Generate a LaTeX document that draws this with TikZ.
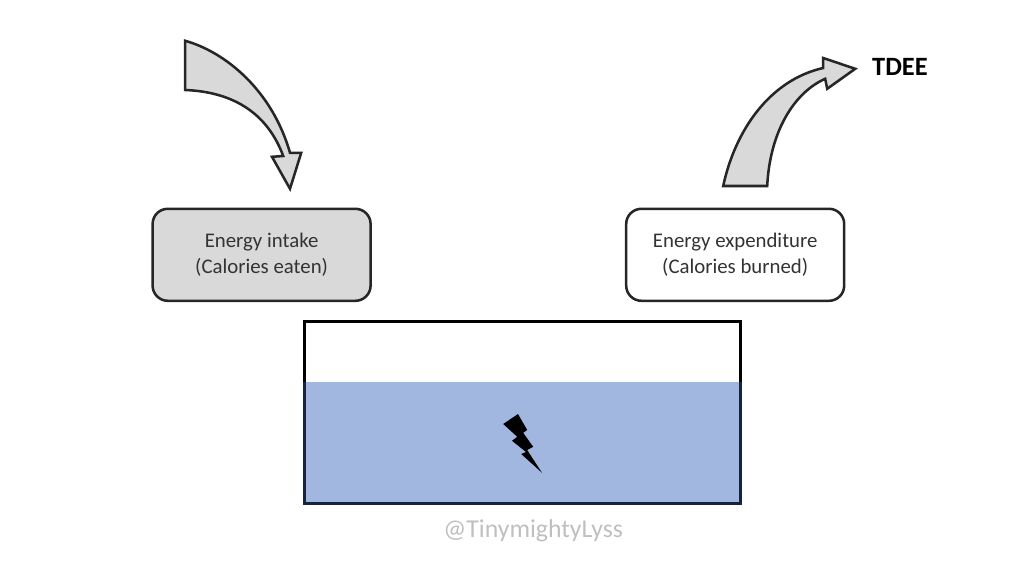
\documentclass[tikz,border=0pt]{standalone}
\usepackage{fontspec}
\setmainfont{Carlito}
\usetikzlibrary{calc}
\definecolor{arrowgray}{HTML}{D9D9D9}
\definecolor{waterblue}{HTML}{A1B7E0}
\definecolor{wateredge}{HTML}{15233F}
\definecolor{markgray}{HTML}{BFBFBF}
\tikzset{
  energybox/.style={draw=black!85, line width=1.8pt, rounded corners=0.38cm, minimum width=5.45cm, minimum height=2.3cm, align=center, font=\fontsize{14.8}{19}\selectfont, text=black!80},
  blockarrow/.style={draw=black!85, line width=1.8pt, fill=arrowgray, line join=miter}
}

\begin{document}
\begin{tikzpicture}
    \useasboundingbox (0,0) rectangle (25.6,14.4);
    % intake arrow
    \draw [blockarrow] (4.63,13.38) .. controls (5.63,13.1) and (6.8,12.15) .. (7.25,10.58) -- (7.53,10.58) -- (7.25,9.68) -- (6.8,10.48) -- (7.08,10.5) .. controls (6.7,11.53) and (5.88,12.1) .. (4.63,12.15) -- cycle;
    % expenditure arrow
    \draw [blockarrow] (18.08,9.75) -- (19.18,9.75) .. controls (19.25,11.15) and (19.88,12.1) .. (20.63,12.43) -- (20.68,12.18) -- (21.38,12.68) -- (20.58,12.95) -- (20.58,12.7) .. controls (19.25,12.4) and (18.38,11.15) .. (18.08,9.75) -- cycle;
    \node [energybox, fill=arrowgray] (intake) at (6.54,8.03) {Energy intake\\(Calories eaten)};
    \node [energybox, fill=white] (expenditure) at (18.38,8.03) {Energy expenditure\\(Calories burned)};
    \node [font=\fontsize{18.8}{22}\selectfont\bfseries] (tdee) at (22.5,12.73) {TDEE};
    % tank and water
    \node [fill=waterblue, minimum width=10.89cm, minimum height=3.02cm, inner sep=0pt, outer sep=0pt] (water) at (13.06,3.33) {};
    \node [draw=black, line width=1.9pt, minimum width=10.89cm, minimum height=4.53cm, inner sep=0pt, outer sep=0pt] (tank) at (13.06,4.09) {};
    \draw [wateredge, line width=1.9pt] (water.north west) -- (water.south west) -- (water.south east) -- (water.north east);
    \fill [black] (12.58,3.8) -- (12.95,4.05) -- (13.18,3.65) -- (13.08,3.58) -- (13.33,3.23) -- (13.18,3.15) -- (13.55,2.58) -- (13.03,3.05) -- (13.15,3.1) -- (12.8,3.38) -- (12.93,3.48) -- cycle;
    \node [font=\fontsize{18.3}{22}\selectfont, text=markgray] (mark) at (13.33,1.13) {@TinymightyLyss};
  \end{tikzpicture}
\end{document}
